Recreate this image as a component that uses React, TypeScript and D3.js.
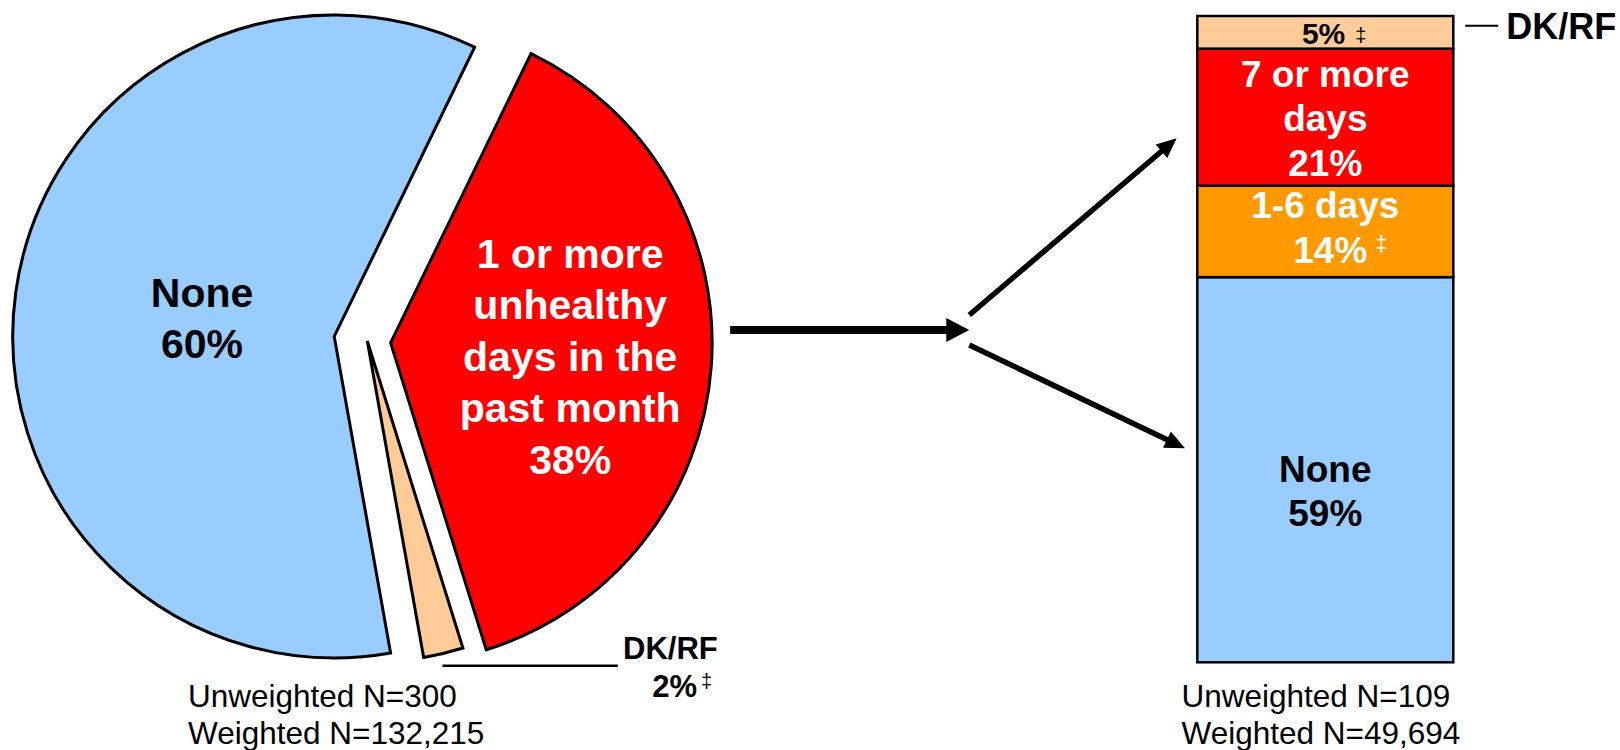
import React from "react";
import * as d3 from "d3";

// ---------- data ----------
const pieCategories = ["None", "1 or more unhealthy days in the past month", "DK/RF"];
const pieValues = [60, 38, 2];
const pieLabelLines: string[][] = [["None", "60%"], ["1 or more", "unhealthy", "days in the", "past month", "38%"], []];

const barCategories = ["None", "1-6 days", "7 or more days", "DK/RF"];
const barValues = [59, 14, 21, 5];
const barLabelLines: string[][] = [["None", "59%"], ["1-6 days", "14%"], ["7 or more", "days", "21%"], ["5%"]];
const barDagger = [false, true, false, true];

const leftSample = ["Unweighted N=300", "Weighted N=132,215"];
const rightSample = ["Unweighted N=109", "Weighted N=49,694"];
const dkLeftLabel = ["DK/RF", "2%"];
const dkRightLabel = "DK/RF";

// ---------- styles / layout ----------
const W = 1620, H = 750;
const FONT = "'Liberation Sans', Arial, Helvetica, sans-serif";
const pieColors = ["#99CCFF", "#FF0000", "#FFCC99"];
const pieTextColors = ["#000000", "#FFFFFF", "#000000"];
const barColors = ["#99CCFF", "#FF9900", "#FF0000", "#FFCC99"];
const barTextColors = ["#000000", "#FFFFFF", "#FFFFFF", "#000000"];
const barFont = [37, 37, 37, 30];
const barLineH = [44, 45, 44.7, 0];
const barLabelShift = [21, -4, 1, 1];

const R = 321.5;
const CX = 367.3, CY = 341;
const explode = [33.4, 23.4, 0];
const labelRad = [0.415, 0.56, 0];
const startAngle = (169.9 * Math.PI) / 180;

const BAR_X = 1197.3, BAR_W = 256, BAR_TOP = 16, BAR_BOTTOM = 662.3;

function Arrow({ x1, y1, x2, y2, w, hl, hw }: { x1: number; y1: number; x2: number; y2: number; w: number; hl: number; hw: number }) {
  const dx = x2 - x1, dy = y2 - y1;
  const len = Math.hypot(dx, dy);
  const ux = dx / len, uy = dy / len;
  const px = -uy, py = ux;
  const bx = x2 - ux * hl, by = y2 - uy * hl;
  const head = `M${x2},${y2}L${bx + px * hw},${by + py * hw}L${bx - px * hw},${by - py * hw}Z`;
  return (
    <g>
      <line x1={x1} y1={y1} x2={bx + ux * 2} y2={by + uy * 2} stroke="#000" strokeWidth={w} />
      <path d={head} fill="#000" />
    </g>
  );
}

export default function App() {
  const pie = d3.pie<number>().sort(null).startAngle(startAngle).endAngle(startAngle + 2 * Math.PI);
  const arcs = pie(pieValues);
  const arc = d3.arc<d3.PieArcDatum<number>>().innerRadius(0).outerRadius(R);

  const total = d3.sum(barValues);
  const y = d3.scaleLinear().domain([0, total]).range([BAR_BOTTOM, BAR_TOP]);
  const cum = d3.cumsum(barValues);
  const barCX = BAR_X + BAR_W / 2;

  // DK/RF pie leader
  const dk = arcs[2];
  const dkMid = (dk.startAngle + dk.endAngle) / 2;
  const dkOuterX = CX + R * Math.sin(dkMid);
  const dkOuterY = CY - R * Math.cos(dkMid);

  // arrow geometry
  const redMid = (arcs[1].startAngle + arcs[1].endAngle) / 2;
  const pieRight = CX + explode[1] * Math.sin(redMid) + R;
  const hArrowY = CY - 11;

  return (
    <svg width={W} height={H} style={{ position: "absolute", left: 0, top: 0, background: "#fff" }} fontFamily={FONT}>
      {/* pie */}
      {arcs.map((a, i) => {
        const mid = (a.startAngle + a.endAngle) / 2;
        const tx = CX + explode[i] * Math.sin(mid);
        const ty = CY - explode[i] * Math.cos(mid);
        const lines = pieLabelLines[i];
        const lr = labelRad[i] * R;
        const lx = tx + lr * Math.sin(mid);
        const ly = ty - lr * Math.cos(mid);
        const fs = 41, lh = 51.5;
        const first = ly - ((lines.length - 1) * lh) / 2 + fs * 0.716 / 2;
        return (
          <g key={pieCategories[i]}>
            <path d={arc(a) || ""} transform={`translate(${tx},${ty})`} fill={pieColors[i]} stroke="#000" strokeWidth={3} strokeLinejoin="miter" />
            {lines.length > 0 && (
              <text textAnchor="middle" fontWeight="bold" fontSize={fs} fill={pieTextColors[i]}>
                {lines.map((l, k) => (
                  <tspan key={k} x={lx} y={first + k * lh}>{l}</tspan>
                ))}
              </text>
            )}
          </g>
        );
      })}

      {/* DK/RF pie leader & label */}
      <line x1={dkOuterX - 1} y1={dkOuterY + 12.4} x2={618} y2={dkOuterY + 12.4} stroke="#000" strokeWidth={2.5} />
      <text x={623} y={659} fontWeight="bold" fontSize={31} fill="#000">{dkLeftLabel[0]}</text>
      <text x={697} y={697} fontWeight="bold" fontSize={31} fill="#000" textAnchor="end">{dkLeftLabel[1]}</text>
      <text x={701} y={688} fontSize={20} fill="#000">‡</text>

      {/* sample sizes */}
      {leftSample.map((t, i) => (
        <text key={t} x={188} y={706.7 + i * 36.8} fontSize={31.5} fill="#000">{t}</text>
      ))}
      {rightSample.map((t, i) => (
        <text key={t} x={1181.5} y={706.7 + i * 36.8} fontSize={31.5} fill="#000">{t}</text>
      ))}

      {/* arrows */}
      <Arrow x1={pieRight + 18} y1={hArrowY} x2={969.3} y2={hArrowY} w={8} hl={23} hw={12} />
      <Arrow x1={969.3} y1={hArrowY - 15} x2={BAR_X - 20.6} y2={138.3} w={5.5} hl={20} hw={9} />
      <Arrow x1={969.3} y1={hArrowY + 15} x2={BAR_X - 12.3} y2={448.3} w={5.5} hl={20} hw={9} />

      {/* stacked bar */}
      {barValues.map((v, i) => {
        const y0 = y(cum[i] - v), y1 = y(cum[i]);
        const lines = barLabelLines[i];
        const fs = barFont[i];
        const lh = barLineH[i];
        const cy = (y0 + y1) / 2 + barLabelShift[i];
        const first = cy - ((lines.length - 1) * lh) / 2 + fs * 0.716 / 2;
        const isTop = i === barValues.length - 1;
        return (
          <g key={barCategories[i]}>
            <rect x={BAR_X} y={y1} width={BAR_W} height={y0 - y1} fill={barColors[i]} stroke="#000" strokeWidth={2.5} />
            {!isTop && (
              <text textAnchor="middle" fontWeight="bold" fontSize={fs} fill={barTextColors[i]}>
                {lines.map((l, k) => (
                  <tspan key={k} x={barCX + (k === lines.length - 1 && barDagger[i] ? 5 : 0)} y={first + k * lh}>{l}</tspan>
                ))}
              </text>
            )}
            {!isTop && barDagger[i] && (
              <text x={barCX + 50} y={first + (lines.length - 1) * lh - 12} fontSize={22} fill={barTextColors[i]}>‡</text>
            )}
            {isTop && (
              <g>
                <text x={barCX + 20} y={first} textAnchor="end" fontWeight="bold" fontSize={fs} fill={barTextColors[i]}>{lines[0]}</text>
                {barDagger[i] && <text x={barCX + 30} y={first - 2} fontSize={20} fill={barTextColors[i]}>‡</text>}
                <line x1={BAR_X + BAR_W + 12} y1={(y0 + y1) / 2 - 6.6} x2={BAR_X + BAR_W + 45} y2={(y0 + y1) / 2 - 6.6} stroke="#000" strokeWidth={2} />
                <text x={BAR_X + BAR_W + 53} y={39.3} fontWeight="bold" fontSize={36} fill="#000">{dkRightLabel}</text>
              </g>
            )}
          </g>
        );
      })}
    </svg>
  );
}
